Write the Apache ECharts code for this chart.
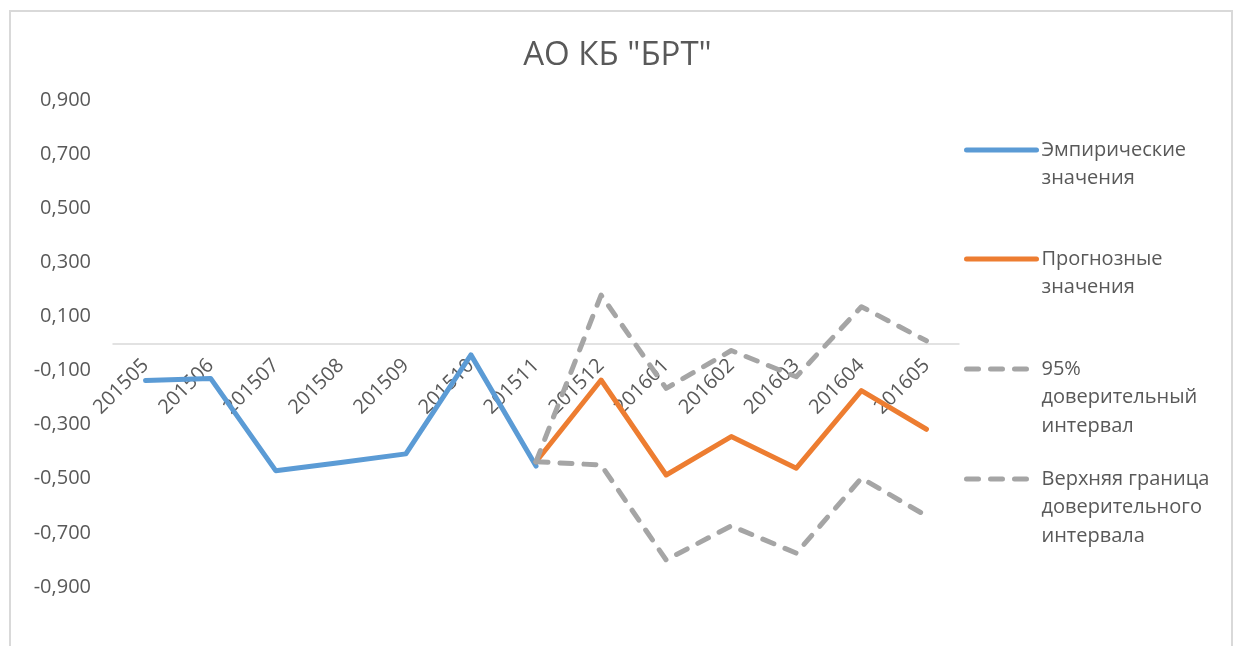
<!DOCTYPE html>
<html lang="ru">
<head>
<meta charset="utf-8">
<title>АО КБ "БРТ"</title>
<script src="https://cdn.jsdelivr.net/npm/echarts@6/dist/echarts.min.js"></script>
<style>
  html, body { margin: 0; padding: 0; background: #ffffff; }
  #chart { width: 1235px; height: 646px; }
</style>
</head>
<body>
<div id="chart"></div>
<script>
// Monthly periods
const categories = ['201505', '201506', '201507', '201508', '201509', '201510', '201511',
                    '201512', '201601', '201602', '201603', '201604', '201605'];

// Observed values
const empirical = [-0.137, -0.129, -0.470, -0.440, -0.408, -0.042, -0.453,
                   null, null, null, null, null, null];

// Forecast values
const forecast = [null, null, null, null, null, null, -0.437,
                  -0.135, -0.486, -0.344, -0.461, -0.174, -0.317];

// Confidence band: upper and lower bounds
const upperBound = [null, null, null, null, null, null, -0.437,
                    0.179, -0.166, -0.026, -0.123, 0.136, 0.010];
const lowerBound = [null, null, null, null, null, null, -0.437,
                    -0.449, -0.800, -0.674, -0.775, -0.498, -0.637];

// Value-axis labels
const yTickValues = [-0.9, -0.7, -0.5, -0.3, -0.1, 0.1, 0.3, 0.5, 0.7, 0.9];

const seriesNames = [
  'Эмпирические\nзначения',
  'Прогнозные\nзначения',
  '95%\nдоверительный\nинтервал',
  'Верхняя граница\nдоверительного\nинтервала'
];

const FONT = '"Open Sans", "Noto Sans", sans-serif';
const TEXT = '#595959';
const LH = 28.5;
const LINE_W = 5;

// Plot geometry (pixels)
const GRID_TOP = 100;
const GRID_BOTTOM = 59;
const Y_MIN = -0.9;
const Y_MAX = 0.9;
const PLOT_H = 646 - GRID_TOP - GRID_BOTTOM;
// distance from the bottom edge of the plot up to the zero line
const ZERO_LIFT = PLOT_H * (0 - Y_MIN) / (Y_MAX - Y_MIN);

// One legend block per series; leading blank lines keep the icon level with the first line
const legendCenters = [150, 259, 369, 479];
function legendFor(i) {
  const n = seriesNames[i].split('\n').length;
  const h = (2 * n - 1) * LH;
  return {
    show: true,
    orient: 'vertical',
    left: 964,
    top: legendCenters[i] - h / 2,
    padding: 0,
    itemWidth: 70,
    itemHeight: 14,
    selectedMode: false,
    data: [seriesNames[i]],
    formatter: name => '\n'.repeat(n - 1) + name,
    itemStyle: { color: 'rgba(0,0,0,0)', borderWidth: 0, opacity: 0 },
    lineStyle: { width: LINE_W, cap: 'round' },
    textStyle: {
      fontFamily: FONT,
      fontSize: 20,
      color: TEXT,
      lineHeight: LH
    }
  };
}

function lineSeries(name, data, color, dashed) {
  return {
    name: name,
    type: 'line',
    data: data,
    symbol: 'none',
    connectNulls: false,
    lineStyle: {
      color: color,
      width: LINE_W,
      type: dashed ? [12, 12] : 'solid',
      cap: 'round',
      join: 'round'
    },
    itemStyle: { color: color }
  };
}

const chart = echarts.init(document.getElementById('chart'), null, { renderer: 'canvas' });
chart.setOption({
  animation: false,
  backgroundColor: '#ffffff',
  textStyle: { fontFamily: FONT },
  title: {
    text: 'АО КБ "БРТ"',
    left: 'center',
    top: 39,
    padding: 0,
    textStyle: { fontFamily: FONT, fontSize: 33, fontWeight: 'normal', color: TEXT }
  },
  graphic: [{
    type: 'rect',
    silent: true,
    shape: { x: 10, y: 11, width: 1222, height: 700 },
    style: { fill: 'none', stroke: '#d9d9d9', lineWidth: 2 }
  }],
  legend: [legendFor(0), legendFor(1), legendFor(2), legendFor(3)],
  grid: {
    left: 113, right: 276, top: GRID_TOP, bottom: GRID_BOTTOM,
    containLabel: false,
    outerBoundsMode: 'none'
  },
  xAxis: {
    type: 'category',
    data: categories,
    boundaryGap: true,
    position: 'bottom',
    offset: -ZERO_LIFT,
    axisLine: { onZero: false, lineStyle: { color: '#d9d9d9', width: 1.5 } },
    axisTick: { show: false },
    axisLabel: {
      rotate: 45,
      interval: 0,
      margin: 19,
      fontFamily: FONT,
      fontSize: 20,
      color: TEXT
    },
    splitLine: { show: false }
  },
  yAxis: {
    type: 'value',
    min: Y_MIN,
    max: Y_MAX,
    axisLine: { show: false },
    axisTick: { show: false },
    splitLine: { show: false },
    axisLabel: {
      customValues: yTickValues,
      margin: 22,
      fontFamily: FONT,
      fontSize: 20,
      color: TEXT,
      formatter: v => v.toFixed(3).replace('.', ',')
    }
  },
  series: [
    lineSeries(seriesNames[0], empirical, '#5b9bd5', false),
    lineSeries(seriesNames[1], forecast, '#ed7d31', false),
    lineSeries(seriesNames[2], upperBound, '#a5a5a5', true),
    lineSeries(seriesNames[3], lowerBound, '#a5a5a5', true)
  ]
});
</script>
</body>
</html>
